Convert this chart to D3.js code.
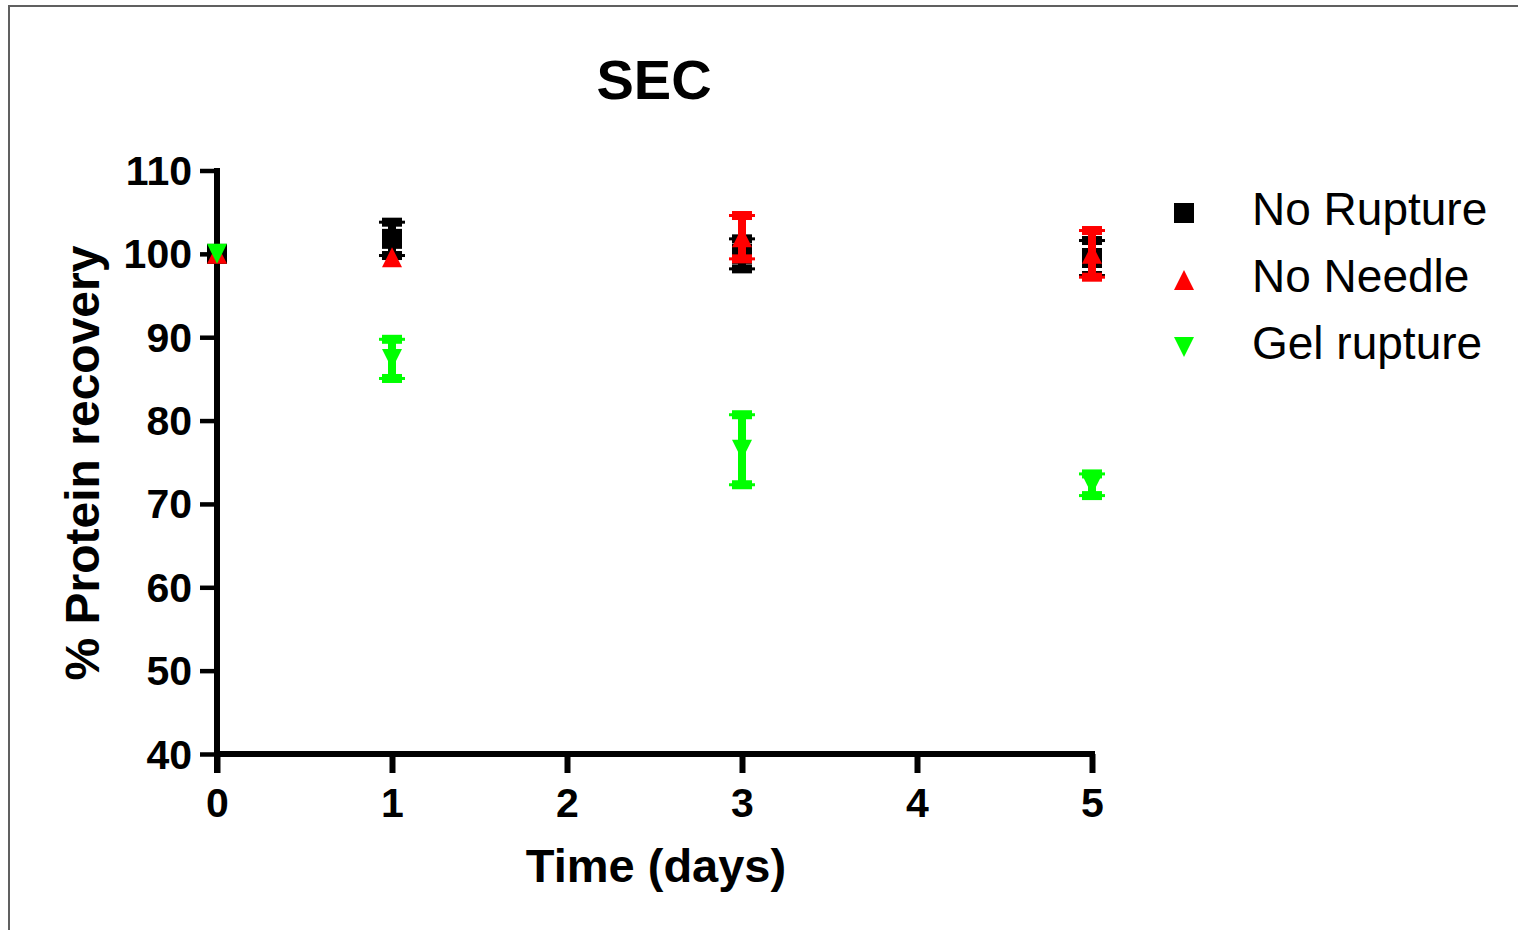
<!DOCTYPE html>
<html>
<head>
<meta charset="utf-8">
<script src="https://cdn.jsdelivr.net/npm/d3@7"></script>
<style>
  html, body { margin: 0; padding: 0; background: #fff; }
  svg { display: block; }
  text { font-family: "Liberation Sans", Arial, sans-serif; fill: #000; }
</style>
</head>
<body>
<svg id="chart" width="1518" height="930"></svg>
<script>
// ---- data ----
const days = [0, 1, 3, 5];
const seriesNames = ["No Rupture", "No Needle", "Gel rupture"];
const seriesColors = ["#000000", "#ff0000", "#00ff00"];
const seriesShapes = ["square", "triangleUp", "triangleDown"];
const noRupture = [100, 101.8, 100, 99.5];
const noRuptureErr = [0, 2.0, 1.8, 2.1];
const noNeedle = [100, 99.6, 102, 100];
const noNeedleErr = [0, 0, 2.6, 2.8];
const gelRupture = [100, 87.4, 76.5, 72.3];
const gelRuptureErr = [0, 2.35, 4.2, 1.3];
const xTicks = [0, 1, 2, 3, 4, 5];
const yTicks = [40, 50, 60, 70, 80, 90, 100, 110];

const seriesValues = [noRupture, noNeedle, gelRupture];
const seriesErrors = [noRuptureErr, noNeedleErr, gelRuptureErr];

const svg = d3.select("#chart");

// border lines (top & left)
svg.append("path")
  .attr("d", "M9,935 L9,6 L1525,6")
  .attr("fill", "none")
  .attr("stroke", "#606060")
  .attr("stroke-width", 2);

const x = d3.scaleLinear().domain([0, 5]).range([217, 1092]);
const y = d3.scaleLinear().domain([40, 110]).range([754, 170.5]);

// title
svg.append("text")
  .attr("x", 654).attr("y", 99)
  .attr("text-anchor", "middle")
  .attr("font-size", 56).attr("font-weight", "bold")
  .text("SEC");

// y axis
const yAxis = d3.axisLeft(y).tickValues(yTicks).tickSize(17).tickSizeOuter(0).tickPadding(8).tickFormat(d3.format("d"));
const gy = svg.append("g").attr("transform", `translate(${x(0)},0)`).call(yAxis);
gy.select(".domain").attr("stroke", "#000").attr("stroke-width", 6)
  .attr("d", `M0,${y(110) - 2.5}V${y(40) + 19}`);
gy.selectAll(".tick line").attr("stroke", "#000").attr("stroke-width", 4.5);
gy.selectAll(".tick text")
  .attr("font-size", 41).attr("font-weight", "bold")
  .attr("font-family", "Liberation Sans, Arial, sans-serif")
  .attr("fill", "#000")
  .attr("dy", null).attr("dominant-baseline", null)
  .attr("y", 14);

// x axis
const xAxis = d3.axisBottom(x).tickValues(xTicks).tickSize(19).tickSizeOuter(0).tickPadding(10).tickFormat(d3.format("d"));
const gx = svg.append("g").attr("transform", `translate(0,${y(40)})`).call(xAxis);
gx.select(".domain").attr("stroke", "#000").attr("stroke-width", 6)
  .attr("d", `M${x(0) - 3},0H${x(5) + 3}`);
gx.selectAll(".tick line").attr("stroke", "#000").attr("stroke-width", 6);
gx.selectAll(".tick text")
  .attr("font-size", 41).attr("font-weight", "bold")
  .attr("font-family", "Liberation Sans, Arial, sans-serif")
  .attr("fill", "#000")
  .attr("dy", null)
  .attr("y", 63);

// axis titles
svg.append("text")
  .attr("x", 656).attr("y", 882)
  .attr("text-anchor", "middle")
  .attr("font-size", 47).attr("font-weight", "bold")
  .text("Time (days)");

svg.append("text")
  .attr("transform", "translate(99,463) rotate(-90)")
  .attr("text-anchor", "middle")
  .attr("font-size", 48).attr("font-weight", "bold")
  .text("% Protein recovery");

// marker shapes
function shapePath(shape) {
  if (shape === "square") return "M-10,-10H10V10H-10Z";
  if (shape === "triangleUp") return "M0,-10L10,10H-10Z";
  return "M-10,-10H10L0,10Z";
}

function drawCap(g, cx, cy, color) {
  g.append("rect").attr("x", cx - 10).attr("y", cy - 4.5).attr("width", 20).attr("height", 9).attr("fill", color);
  g.append("rect").attr("x", cx - 13).attr("y", cy - 1.5).attr("width", 26).attr("height", 3).attr("fill", color);
}

const plot = svg.append("g");
seriesValues.forEach((vals, si) => {
  const g = plot.append("g");
  const color = seriesColors[si];
  const errs = seriesErrors[si];
  days.forEach((d, i) => {
    const e = errs[i];
    if (e > 0) {
      const cx = x(d);
      const yt = y(vals[i] + e), yb = y(vals[i] - e);
      g.append("rect").attr("x", cx - 4).attr("y", yt).attr("width", 8).attr("height", yb - yt).attr("fill", color);
      drawCap(g, cx, yt, color);
      drawCap(g, cx, yb, color);
    }
  });
  g.selectAll("path.marker")
    .data(days.map((d, i) => ({ d, v: vals[i] })))
    .join("path")
    .attr("class", "marker")
    .attr("d", shapePath(seriesShapes[si]))
    .attr("transform", p => `translate(${x(p.d)},${y(p.v)})`)
    .attr("fill", color);
});

// legend
const legendY = [213, 280, 347];
const leg = svg.append("g");
seriesNames.forEach((name, i) => {
  leg.append("path")
    .attr("d", shapePath(seriesShapes[i]))
    .attr("transform", `translate(1184,${legendY[i]})`)
    .attr("fill", seriesColors[i]);
  leg.append("text")
    .attr("x", 1252).attr("y", legendY[i] + 12)
    .attr("font-size", 46)
    .text(name);
});
</script>
</body>
</html>
